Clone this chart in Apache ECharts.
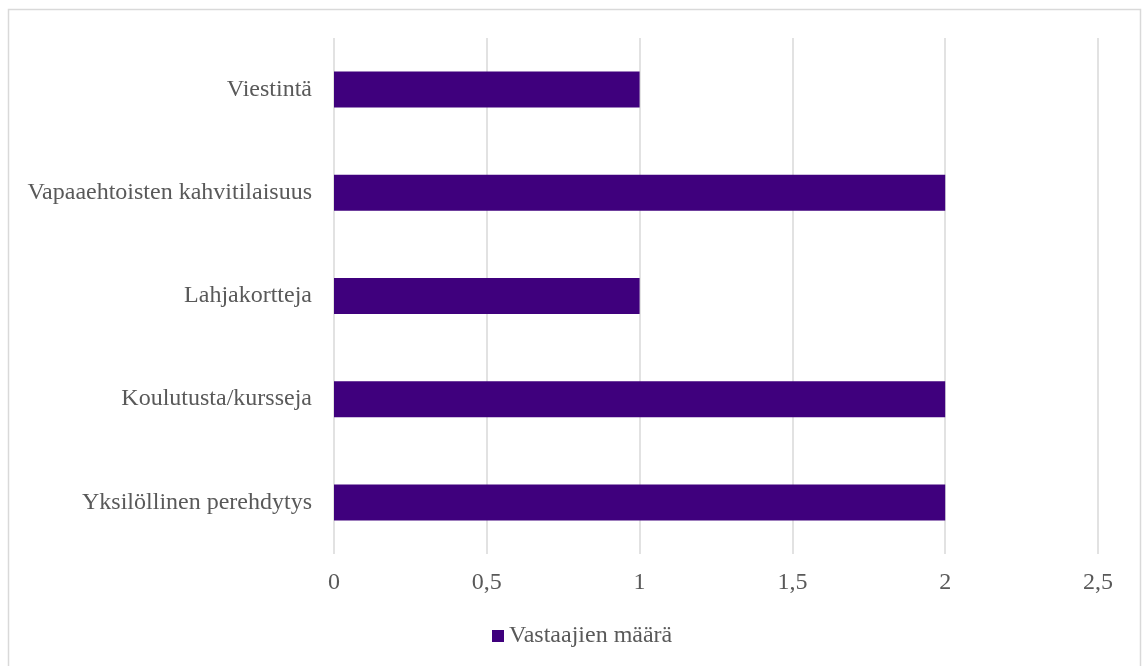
<!DOCTYPE html>
<html>
<head>
<meta charset="utf-8">
<style>
  html, body { margin: 0; padding: 0; background: #fff; }
  #chart { width: 1142px; height: 666px; }
</style>
<script src="https://cdn.jsdelivr.net/npm/echarts@6/dist/echarts.min.js"></script>
</head>
<body>
<div id="chart"></div>
<script>
// Categories listed bottom to top, as the category axis draws them
const categories = [
  'Yksilöllinen perehdytys',
  'Koulutusta/kursseja',
  'Lahjakortteja',
  'Vapaaehtoisten kahvitilaisuus',
  'Viestintä'
];
const seriesName = 'Vastaajien määrä';
const counts = [2, 2, 1, 2, 1];
const axisMax = 2.5;
const axisStep = 0.5;

const font = '"Liberation Serif", "Times New Roman", serif';
const textColor = '#595959';

const chart = echarts.init(document.getElementById('chart'), null, { renderer: 'canvas' });
chart.setOption({
  animation: false,
  backgroundColor: '#ffffff',
  textStyle: { fontFamily: font },
  graphic: [{
    type: 'rect',
    silent: true,
    shape: { x: 8.5, y: 9.5, width: 1132, height: 720 },
    style: { fill: 'none', stroke: '#d9d9d9', lineWidth: 1.5 }
  }],
  grid: { left: 334, right: 44, top: 38, bottom: 112, containLabel: false },
  legend: {
    data: [seriesName],
    top: 619,
    left: 487,
    icon: 'rect',
    itemWidth: 12,
    itemHeight: 12,
    itemGap: 5,
    textStyle: { fontFamily: font, fontSize: 24, color: textColor }
  },
  xAxis: {
    type: 'value',
    min: 0,
    max: axisMax,
    interval: axisStep,
    axisLine: { show: false },
    axisTick: { show: false },
    splitLine: { show: true, lineStyle: { color: '#d9d9d9', width: 1.5 } },
    axisLabel: {
      margin: 17,
      fontFamily: font,
      fontSize: 24,
      color: textColor,
      formatter: v => String(v).replace('.', ',')
    }
  },
  yAxis: {
    type: 'category',
    data: categories,
    axisLine: { show: false },
    axisTick: { show: false },
    axisLabel: {
      margin: 22,
      fontFamily: font,
      fontSize: 24,
      color: textColor
    }
  },
  series: [{
    name: seriesName,
    type: 'bar',
    data: counts,
    barWidth: 36,
    itemStyle: { color: '#3f007d' }
  }]
});
</script>
</body>
</html>
